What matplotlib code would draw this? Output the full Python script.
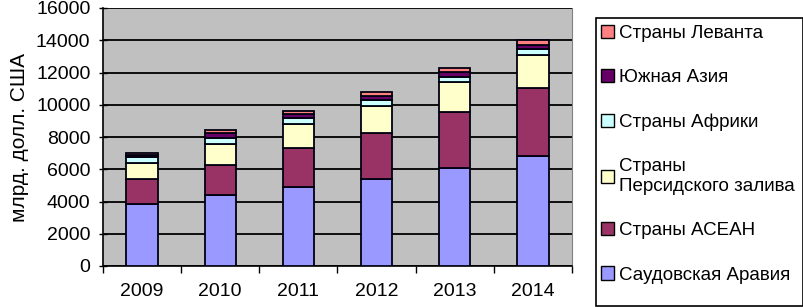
import matplotlib
matplotlib.use("Agg")
import matplotlib.pyplot as plt
from matplotlib.patches import Rectangle
import numpy as np

plt.rcParams['font.family'] = ['Liberation Sans', 'DejaVu Sans']

# Données (млрд. долл. США)
annees = ['2009', '2010', '2011', '2012', '2013', '2014']
saoudite = [3850, 4400, 4880, 5400, 6080, 6820]
asean = [1550, 1860, 2420, 2850, 3450, 4220]
golfe = [1000, 1290, 1490, 1650, 1860, 2060]
afrique = [340, 410, 370, 370, 350, 380]
asie_sud = [140, 270, 270, 270, 290, 240]
levant = [150, 200, 200, 250, 230, 300]

series = [
    ('Саудовская Аравия', saoudite, '#9999FF'),
    ('Страны АСЕАН', asean, '#993366'),
    ('Страны\nПерсидского залива', golfe, '#FFFFCC'),
    ('Страны Африки', afrique, '#CCFFFF'),
    ('Южная Азия', asie_sud, '#660066'),
    ('Страны Леванта', levant, '#FF8080'),
]

fig = plt.figure(figsize=(8.04, 3.07), dpi=100)
ax = fig.add_axes([103 / 804, 41 / 307, 469 / 804, 258 / 307])
ax.set_facecolor('#C0C0C0')

x = np.arange(len(annees))
bas = np.zeros(len(annees))
handles = []
for nom, valeurs, couleur in series:
    b = ax.bar(x, valeurs, width=0.4, bottom=bas, color=couleur,
               edgecolor='#000010', linewidth=1.3, label=nom, zorder=3)
    handles.append(b)
    bas += np.array(valeurs)

ax.set_ylim(0, 16000)
ax.set_xlim(-0.5, len(annees) - 0.5)
ax.set_yticks(range(0, 16001, 2000))
ax.yaxis.grid(True, color='black', linewidth=1.3, zorder=1)
ax.set_axisbelow(True)

ax.set_xticks(x)
ax.set_xticklabels(annees, fontsize=14)
ax.set_xticks(np.arange(-0.5, len(annees), 1.0), minor=True)
ax.tick_params(axis='x', which='major', length=0, pad=12)
ax.tick_params(axis='x', which='minor', length=5, direction='out', width=1)
ax.tick_params(axis='y', labelsize=14, length=6, direction='inout', width=1, pad=6)
ax.set_ylabel('млрд. долл. США', fontsize=15, labelpad=5)

ax.spines['top'].set_visible(False)
ax.spines['right'].set_color('#808080')
ax.spines['left'].set_linewidth(1.2)
ax.spines['bottom'].set_linewidth(1.2)

# Cadre de la légende
fig.patches.append(Rectangle((596 / 804, 1 / 307), 207 / 804, 288 / 307,
                             transform=fig.transFigure, facecolor='white',
                             edgecolor='black', linewidth=1.2))
leg = fig.legend(handles[::-1], [s[0] for s in series[::-1]],
                 loc='upper left', bbox_to_anchor=(601 / 804, 1 - 25 / 307),
                 frameon=False, fontsize=13.5, labelspacing=1.45,
                 handlelength=0.7, handleheight=0.7, handletextpad=0.25,
                 borderpad=0, borderaxespad=0)
for h in leg.legend_handles:
    h.set_edgecolor('black')
    h.set_linewidth(1.0)

plt.savefig('out.png', dpi=100)
